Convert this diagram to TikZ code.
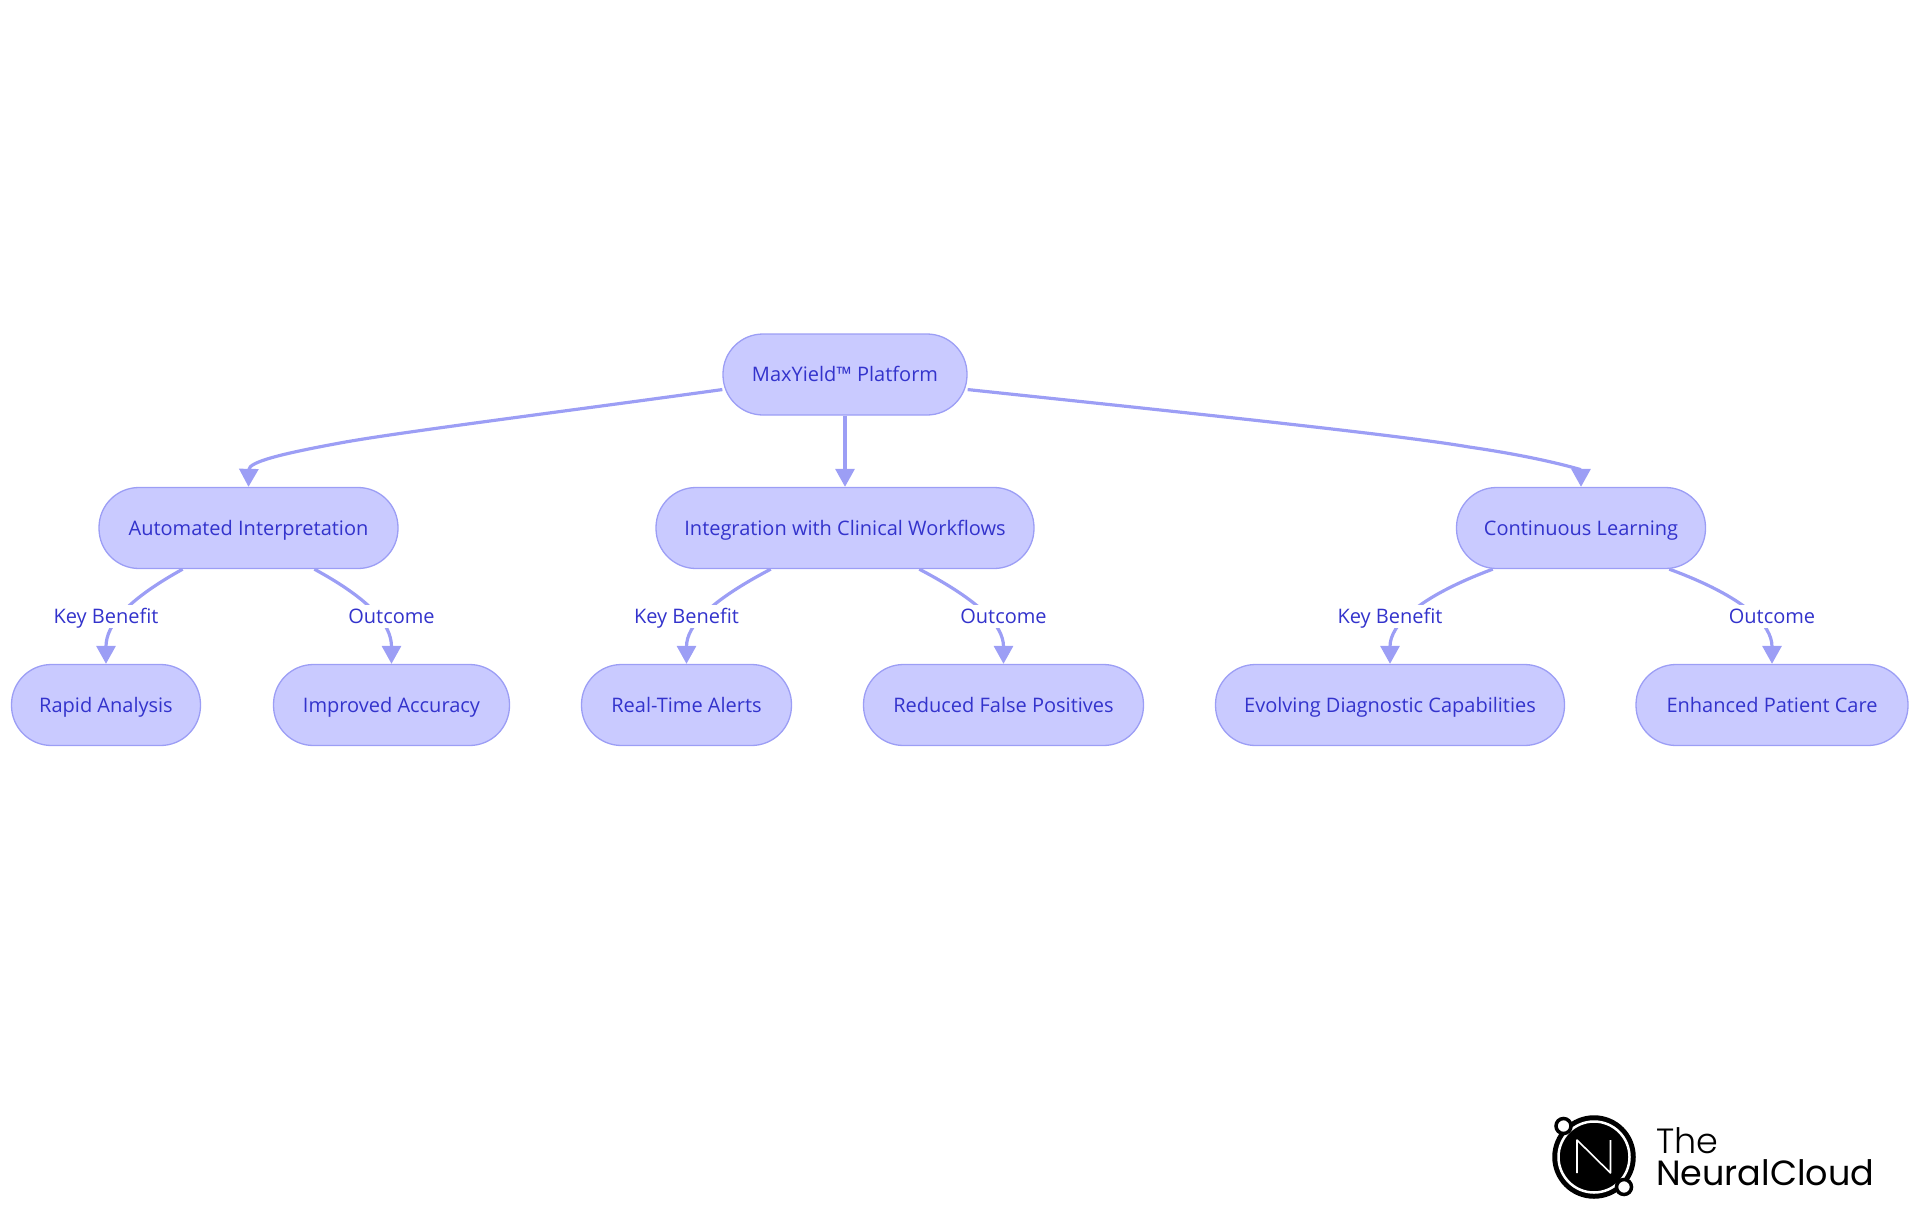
\documentclass[tikz,border=0pt]{standalone}
\usepackage{fontspec}
\setmainfont{Open Sans}
\newfontfamily\logofont{Poppins}
\newfontfamily\logolight[UprightFont={* Light}]{Poppins}
\usetikzlibrary{arrows.meta,backgrounds}

\definecolor{pillfill}{HTML}{C9CAFF}
\definecolor{pillline}{HTML}{9C9EF5}
\definecolor{pilltext}{HTML}{3333CC}

\tikzset{
  pill/.style={rectangle, rounded corners=40pt, draw=pillline, fill=pillfill, line width=1.3pt, text=pilltext, minimum height=81pt, inner sep=0pt, text height=17pt, text depth=3pt, font=\fontsize{20}{24}\selectfont},
  flow/.style={draw=pillline, line width=3.2pt, -{Triangle[length=18pt,width=19pt]}},
  tag/.style={fill=white, text=pilltext, inner sep=0pt, minimum height=23pt, text height=17pt, text depth=3pt, font=\fontsize{20}{24}\selectfont},
}

\begin{document}
\begin{tikzpicture}[x=1pt,y=-1pt]
 \useasboundingbox (0,0) rectangle (1920,1215);

 % the pills
 \node[pill, minimum width=244pt] (root) at (845,374.5) {MaxYield™ Platform};
 \node[pill, minimum width=299pt] (auto) at (248.5,528) {Automated Interpretation};
 \node[pill, minimum width=378pt] (integ) at (845,528) {Integration with Clinical Workflows};
 \node[pill, minimum width=249pt] (learn) at (1581,528) {Continuous Learning};
 \node[pill, minimum width=189pt] (rapid) at (106,705) {Rapid Analysis};
 \node[pill, minimum width=236pt] (accur) at (391.5,705) {Improved Accuracy};
 \node[pill, minimum width=210pt] (alerts) at (686.5,705) {Real-Time Alerts};
 \node[pill, minimum width=280pt] (reduced) at (1003.5,705) {Reduced False Positives};
 \node[pill, minimum width=349pt] (evolve) at (1390,705) {Evolving Diagnostic Capabilities};
 \node[pill, minimum width=272pt] (care) at (1772,705) {Enhanced Patient Care};

 % edge labels
 \node[tag] (tag1) at (106,616) {Key Benefit};
 \node[tag] (tag2) at (391.5,616) {Outcome};
 \node[tag] (tag3) at (686.5,616) {Key Benefit};
 \node[tag] (tag4) at (1003.5,616) {Outcome};
 \node[tag] (tag5) at (1390,616) {Key Benefit};
 \node[tag] (tag6) at (1772,616) {Outcome};

 \begin{scope}[on background layer]
 % edges from the root
 \draw[flow] (root.187) .. controls (560,412) and (393,433) .. (340,443) .. controls (280,454) and (249,462) .. (auto.north);
 \draw[flow] (root.south) -- (integ.north);
 \draw[flow] (root.353) .. controls (1180,412) and (1400,435) .. (1469,447) .. controls (1545,458) and (1581,470) .. (learn.north);

 % edges to the lower row
 \draw[flow] (auto.212) .. controls (127,600) and (106,625) .. (rapid.north);
 \draw[flow] (auto.328) .. controls (371,600) and (391.5,625) .. (accur.north);
 \draw[flow] (integ.209) .. controls (712,600) and (686.5,625) .. (alerts.north);
 \draw[flow] (integ.331) .. controls (978,600) and (1003.5,625) .. (reduced.north);
 \draw[flow] (learn.205) .. controls (1418,597) and (1390,625) .. (evolve.north);
 \draw[flow] (learn.335) .. controls (1745,597) and (1772,625) .. (care.north);
 \end{scope}

 % logo
 \draw[line width=3.5pt, fill=black] (1594,1157) circle (40pt);
 \draw[white, line width=2.5pt] (1594,1157) circle (35.5pt);
 \draw[white, line width=1.6pt, line join=round] (1577,1173) -- (1577,1140) -- (1610.5,1173) -- (1610.5,1140);
 \draw[line width=3.5pt, fill=white] (1563.5,1126) circle (7.5pt);
 \draw[line width=3.5pt, fill=white] (1624,1187) circle (7.5pt);
 \node[anchor=base west, inner sep=0pt, font=\logolight\fontsize{35}{40}\selectfont] (logotop) at (1656,1153) {The};
 \node[anchor=base west, inner sep=0pt, font=\logofont\fontsize{35}{40}\selectfont] (logobot) at (1656,1185) {NeuralCloud};
\end{tikzpicture}
\end{document}
